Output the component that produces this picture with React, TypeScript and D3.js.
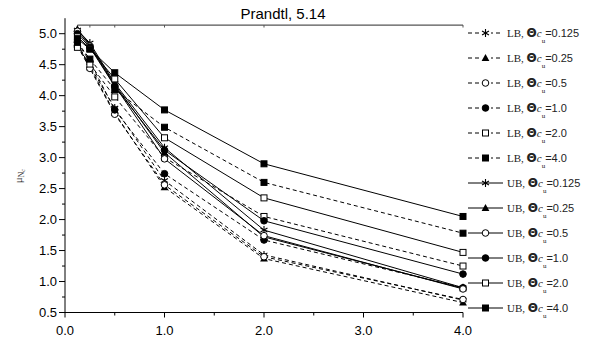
import * as d3 from "d3";
import { useEffect, useRef } from "react";

/* data */
const xs = [0.125, 0.25, 0.5, 1.0, 2.0, 4.0];
const prandtl = 5.14;

const ubSeries = [
  { cu: "0.125", marker: "star", values: [5.06, 4.85, 4.2, 3.16, 1.83, 0.9] },
  { cu: "0.25", marker: "triangle", values: [5.07, 4.82, 4.18, 3.08, 1.72, 0.89] },
  { cu: "0.5", marker: "circleOpen", values: [5.04, 4.8, 4.16, 2.98, 1.74, 0.88] },
  { cu: "1.0", marker: "circle", values: [5.0, 4.78, 4.15, 3.12, 1.98, 1.12] },
  { cu: "2.0", marker: "squareOpen", values: [4.95, 4.76, 4.27, 3.32, 2.35, 1.47] },
  { cu: "4.0", marker: "square", values: [4.92, 4.75, 4.37, 3.77, 2.9, 2.05] },
];

const lbSeries = [
  { cu: "0.125", marker: "star", values: [4.84, 4.48, 3.8, 2.63, 1.43, 0.7] },
  { cu: "0.25", marker: "triangle", values: [4.82, 4.46, 3.72, 2.52, 1.37, 0.66] },
  { cu: "0.5", marker: "circleOpen", values: [4.8, 4.44, 3.7, 2.56, 1.4, 0.71] },
  { cu: "1.0", marker: "circle", values: [4.86, 4.55, 3.77, 2.74, 1.67, 0.9] },
  { cu: "2.0", marker: "squareOpen", values: [4.78, 4.51, 3.98, 3.0, 2.05, 1.25] },
  { cu: "4.0", marker: "square", values: [4.86, 4.59, 4.1, 3.49, 2.6, 1.78] },
];

const yTicks = [0.5, 1.0, 1.5, 2.0, 2.5, 3.0, 3.5, 4.0, 4.5, 5.0];
const xTicks = [0, 1, 2, 3, 4];

function drawMarker(g: any, type: string, x: number, y: number) {
  const s = 3.3;
  if (type === "star") {
    const p = g.append("g").attr("stroke", "#000").attr("stroke-width", 1.1);
    for (let i = 0; i < 3; i++) {
      const a = (Math.PI / 3) * i + Math.PI / 2;
      p.append("line")
        .attr("x1", x - Math.cos(a) * (s + 0.7))
        .attr("y1", y - Math.sin(a) * (s + 0.7))
        .attr("x2", x + Math.cos(a) * (s + 0.7))
        .attr("y2", y + Math.sin(a) * (s + 0.7));
    }
  } else if (type === "triangle") {
    g.append("path")
      .attr("d", `M${x},${y - s - 0.8}L${x + s + 0.6},${y + s - 0.3}L${x - s - 0.6},${y + s - 0.3}Z`)
      .attr("fill", "#000");
  } else if (type === "circle" || type === "circleOpen") {
    g.append("circle")
      .attr("cx", x)
      .attr("cy", y)
      .attr("r", s)
      .attr("fill", type === "circle" ? "#000" : "#fff")
      .attr("stroke", "#000")
      .attr("stroke-width", 1);
  } else {
    g.append("rect")
      .attr("x", x - s + 0.3)
      .attr("y", y - s + 0.3)
      .attr("width", 2 * s - 0.6)
      .attr("height", 2 * s - 0.6)
      .attr("fill", type === "square" ? "#000" : "#fff")
      .attr("stroke", "#000")
      .attr("stroke-width", 1);
  }
}

export default function App() {
  const ref = useRef<SVGSVGElement>(null);

  useEffect(() => {
    if (!ref.current) return;
    const svg = d3.select(ref.current);
    svg.selectAll("*").remove();

    const x = d3.scaleLinear().domain([0, 4]).range([65, 463]);
    const y = d3.scaleLinear().domain([0.5, 5.0]).range([312.5, 33.7]);
    const yTop = y(5.25);

    const axisColor = "#000";

    // y axis
    svg.append("line")
      .attr("x1", x(0)).attr("x2", x(0))
      .attr("y1", yTop).attr("y2", y(0.5))
      .attr("stroke", axisColor);
    const yMinor = d3.range(0.75, 5.25, 0.5);
    svg.selectAll("line.ymaj").data(yTicks).join("line")
      .attr("x1", x(0) - 6).attr("x2", x(0))
      .attr("y1", (d) => y(d)).attr("y2", (d) => y(d))
      .attr("stroke", axisColor);
    svg.selectAll("line.ymin").data(yMinor).join("line")
      .attr("x1", x(0) - 3).attr("x2", x(0))
      .attr("y1", (d) => y(d)).attr("y2", (d) => y(d))
      .attr("stroke", axisColor);
    svg.selectAll("text.ylab").data(yTicks).join("text")
      .attr("x", x(0) - 8)
      .attr("y", (d) => y(d))
      .attr("dy", "0.35em")
      .attr("text-anchor", "end")
      .style("font-family", "Liberation Sans, Arial, sans-serif")
      .style("font-size", "13px")
      .text((d) => d.toFixed(1));

    // x axis
    svg.append("line")
      .attr("x1", x(0)).attr("x2", x(4))
      .attr("y1", y(0.5)).attr("y2", y(0.5))
      .attr("stroke", axisColor);
    svg.selectAll("line.xmaj").data(xTicks).join("line")
      .attr("x1", (d) => x(d)).attr("x2", (d) => x(d))
      .attr("y1", y(0.5)).attr("y2", y(0.5) + 5)
      .attr("stroke", axisColor);
    svg.selectAll("line.xmin").data([0.5, 1.5, 2.5, 3.5]).join("line")
      .attr("x1", (d) => x(d)).attr("x2", (d) => x(d))
      .attr("y1", y(0.5)).attr("y2", y(0.5) + 3)
      .attr("stroke", axisColor);
    svg.selectAll("text.xlab").data(xTicks).join("text")
      .attr("x", (d) => x(d))
      .attr("y", 335)
      .attr("text-anchor", "middle")
      .style("font-family", "Liberation Sans, Arial, sans-serif")
      .style("font-size", "13px")
      .text((d) => d.toFixed(1));

    // y label
    const yl = svg.append("text")
      .attr("transform", `translate(22,${y(2.7)}) rotate(-90)`)
      .attr("text-anchor", "middle")
      .style("font-family", "Liberation Serif, Times New Roman, serif")
      .style("font-size", "11px")
      .attr("fill", "#333");
    yl.append("tspan").text("μ");
    yl.append("tspan").attr("dy", 2).style("font-size", "8px").text("N");
    yl.append("tspan").attr("dy", 1).style("font-size", "6px").style("font-style", "italic").text("c");

    // Prandtl line
    svg.append("line")
      .attr("x1", x(xs[0])).attr("x2", x(4))
      .attr("y1", y(prandtl)).attr("y2", y(prandtl))
      .attr("stroke", "#555").attr("stroke-width", 1.2);
    svg.selectAll("line.pt").data(xs).join("line")
      .attr("x1", (d) => x(d)).attr("x2", (d) => x(d))
      .attr("y1", y(prandtl)).attr("y2", y(prandtl) + 2.5)
      .attr("stroke", "#555");
    svg.append("text")
      .attr("x", 283)
      .attr("y", 19)
      .attr("text-anchor", "middle")
      .style("font-family", "Liberation Sans, Arial, sans-serif")
      .style("font-size", "15px")
      .text("Prandtl, 5.14");

    const line = d3.line<number>()
      .x((_, i) => x(xs[i]))
      .y((d) => y(d));

    const all = [
      ...lbSeries.map((s) => ({ ...s, kind: "LB" })),
      ...ubSeries.map((s) => ({ ...s, kind: "UB" })),
    ];

    all.forEach((s) => {
      svg.append("path")
        .attr("d", line(s.values) as string)
        .attr("fill", "none")
        .attr("stroke", "#000")
        .attr("stroke-width", 1)
        .attr("stroke-dasharray", s.kind === "LB" ? "4,3" : null);
    });
    all.forEach((s) => {
      const g = svg.append("g");
      s.values.forEach((v, i) => drawMarker(g, s.marker, x(xs[i]), y(v)));
    });

    // legend
    const legX0 = 468;
    const legX1 = 503;
    all.forEach((s, i) => {
      const ly = 33 + i * 25;
      svg.append("line")
        .attr("x1", legX0).attr("x2", legX1)
        .attr("y1", ly).attr("y2", ly)
        .attr("stroke", "#000")
        .attr("stroke-width", 1)
        .attr("stroke-dasharray", s.kind === "LB" ? "4,3" : null);
      const mg = svg.append("g");
      if (s.kind === "LB") {
        mg.append("rect").attr("x", legX0 + 12).attr("y", ly - 5).attr("width", 11).attr("height", 10).attr("fill", "#fff");
      }
      drawMarker(mg, s.marker, (legX0 + legX1) / 2, ly);
      const t = svg.append("text")
        .attr("x", legX1 + 4)
        .attr("y", ly + 4)
        .style("font-size", "11px")
        .attr("fill", "#222");
      t.append("tspan").style("font-family", "Liberation Serif, Times New Roman, serif").text(`${s.kind}, `);
      t.append("tspan").style("font-family", "DejaVu Sans, sans-serif").style("font-weight", "bold").style("font-size", "12px").text("Θ");
      t.append("tspan").style("font-family", "Liberation Serif, serif").style("font-style", "italic").text("c");
      t.append("tspan").attr("dy", 6).style("font-family", "Liberation Serif, serif").style("font-size", "7px").text("u");
      t.append("tspan").attr("dy", -6).style("font-family", "Liberation Sans, Arial, sans-serif").text(`=${s.cu}`);
    });
  }, []);

  return <svg ref={ref} width={591} height={341} style={{ display: "block", margin: "-8px 0 0 -8px" }} />;
}
